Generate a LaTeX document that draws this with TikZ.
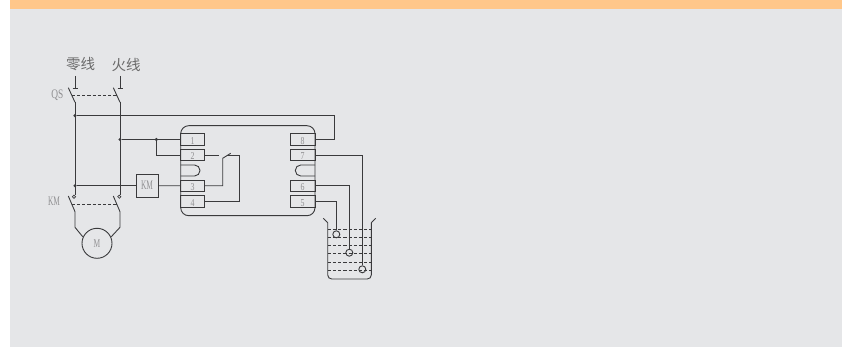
\documentclass[tikz,border=0pt]{standalone}
\usepackage{fontspec}
\setmainfont{Liberation Serif}
\newfontfamily\cjk{Noto Sans CJK SC}
\definecolor{bgc}{HTML}{E5E6E8}
\definecolor{orangec}{HTML}{FFC78A}
\definecolor{wirec}{HTML}{3A3A3C}
\definecolor{txtc}{HTML}{909092}
\tikzset{
  wire/.style={draw=wirec,line width=0.9pt},
  dashwire/.style={wire,dash pattern=on 3.2pt off 2pt},
  term/.style={draw=wirec,line width=0.9pt,minimum height=11.6pt,inner sep=0pt,outer sep=0pt},
  lterm/.style={term,minimum width=24pt},
  rterm/.style={term,minimum width=24.7pt},
  num/.style={text=txtc,font=\fontsize{10.5}{10.5}\selectfont,inner sep=0pt,xscale=0.75},
  lab/.style={text=txtc,font=\fontsize{13}{13}\selectfont,inner sep=0pt},
  cn/.style={text=black!58,font=\cjk\fontsize{14.5}{14.5}\selectfont,inner sep=0pt},
  dot/.style={circle,fill=wirec,inner sep=0pt,minimum size=3.4pt},
  ring/.style={circle,draw=wirec,line width=0.9pt,inner sep=0pt,minimum size=7pt},
  smallring/.style={circle,draw=wirec,line width=0.7pt,inner sep=0pt,minimum size=3.2pt}
}
\begin{document}
\begin{tikzpicture}[x=1pt,y=-1pt]
\useasboundingbox (0,0) rectangle (842,347);
\fill[white] (0,0) rectangle (842,347);
\fill[bgc] (10,9) rectangle (842,347);
\fill[orangec] (10,0) rectangle (842,9);

% labels
\node[cn] (ln) at (80.5,64.5) {零线};
\node[cn] (lh) at (126,64.5) {火线};
\node[lab] (qs) at (57.3,95) {\scalebox{0.72}[1]{QS}};
\node[lab] (kml) at (54,201.7) {\scalebox{0.57}[1]{KM}};

% main unit
\node[draw=wirec,line width=0.9pt,rounded corners=8pt,minimum width=134.3pt,minimum height=90pt,inner sep=0pt,outer sep=0pt] (unit) at (247.85,170.7) {};
\node[lterm,label={[num,yshift=-1.5pt]center:1}] (t1) at (192.7,139.5) {};
\node[lterm,label={[num,yshift=-1.5pt]center:2}] (t2) at (192.7,155) {};
\node[lterm,label={[num,yshift=-1.5pt]center:3}] (t3) at (192.7,185.8) {};
\node[lterm,label={[num,yshift=-1.5pt]center:4}] (t4) at (192.7,201.5) {};
\node[rterm,label={[num,yshift=-1.5pt]center:8}] (t8) at (302.65,139.5) {};
\node[rterm,label={[num,yshift=-1.5pt]center:7}] (t7) at (302.65,155) {};
\node[rterm,label={[num,yshift=-1.5pt]center:6}] (t6) at (302.65,185.8) {};
\node[rterm,label={[num,yshift=-1.5pt]center:5}] (t5) at (302.65,201.5) {};

% U links
\coordinate (ula) at (180.7,165);
\coordinate (ulb) at (180.7,176);
\coordinate (ura) at (315,165);
\coordinate (urb) at (315,176);
\draw[wire,rounded corners=5.4pt] (ula) -- (200,165) -- (200,176) -- (ulb);
\draw[wire,rounded corners=5.4pt] (ura) -- (295.3,165) -- (295.3,176) -- (urb);

% KM coil and motor
\node[draw=wirec,line width=0.9pt,minimum width=22pt,minimum height=23pt,inner sep=0pt,outer sep=0pt,text=txtc,font=\fontsize{13}{13}\selectfont] (coil) at (147,185.7) {\scalebox{0.57}[1]{KM}};
\node[circle,draw=wirec,line width=0.9pt,minimum size=30pt,inner sep=0pt,outer sep=0pt,text=txtc,font=\fontsize{12}{12}\selectfont] (motor) at (97,243.3) {\scalebox{0.62}[1]{M}};

% points
\coordinate (nt) at (75,76);
\coordinate (ht) at (120,76);
\coordinate (ntl) at (72.7,88);
\coordinate (ntr) at (77.7,88);
\coordinate (htl) at (117.5,88);
\coordinate (htr) at (122.5,88);
\coordinate (nb1) at (68.3,87.7);
\coordinate (nb2) at (75,102.3);
\coordinate (hb1) at (113.3,87.7);
\coordinate (hb2) at (120,102.3);
\coordinate (qsa) at (71.7,95.7);
\coordinate (qsb) at (116.7,95.7);
\node[dot] (j1) at (75,115.7) {};
\node[dot] (j2) at (120,139.5) {};
\node[dot] (j3) at (156.3,139.5) {};
\node[dot] (j4) at (75,185.7) {};
\node[smallring] (r1) at (74,196.7) {};
\node[smallring] (r2) at (119.3,196.7) {};
\coordinate (kb1) at (68.3,196);
\coordinate (kb2) at (75,211.7);
\coordinate (kb3) at (113.3,196);
\coordinate (kb4) at (120,211.7);
\coordinate (kma) at (71.7,204);
\coordinate (kmb) at (116.7,204);
\coordinate (mla) at (75,227.3);
\coordinate (mra) at (120,227.3);
\coordinate (mlb) at (82.7,236.7);
\coordinate (mrb) at (111.3,236.7);

% QS
\draw[wire] (nt) -- (nt |- ntl);
\draw[wire] (ht) -- (ht |- htl);
\draw[wire] (ntl) -- (ntr);
\draw[wire] (htl) -- (htr);
\draw[wire] (nb1) -- (nb2);
\draw[wire] (hb1) -- (hb2);
\draw[dashwire] (qsa) -- (qsb);

% power rails
\draw[wire] (nb2) -- (nb2 |- r1.north);
\draw[wire] (hb2) -- (hb2 |- r2.north);
\draw[wire] (j1) -| (334.3,139.5) -- (t8.east);
\draw[wire] (j2) -- (t1.west);
\draw[wire] (j3) |- (t2.west);
\draw[wire] (j4) -- (coil.west);
\draw[wire] (coil.east) -- (t3.west);

% KM contacts and motor
\draw[wire] (kb1) -- (kb2);
\draw[wire] (kb3) -- (kb4);
\draw[dashwire] (kma) -- (kmb);
\draw[wire] (kb2) -- (mla) -- (mlb);
\draw[wire] (kb4) -- (mra) -- (mrb);

% relay contact
\coordinate (c1) at (219.3,155);
\coordinate (c2) at (222.7,158.3);
\coordinate (c3) at (230.7,153.3);
\coordinate (c4) at (226.7,155);
\coordinate (c5) at (239.3,155);
\draw[wire] (t2.east) -- (c1);
\draw[wire] (t3.east) -| (c2) -- (c3);
\draw[wire] (t4.east) -| (c5) -- (c4);

% beaker
\coordinate (b1) at (323.3,218.3);
\coordinate (b2) at (327.7,222.7);
\coordinate (b3) at (371.3,222.7);
\coordinate (b4) at (375.7,218.3);
\draw[wire] (b1) -- (b2);
\draw[wire] (b3) -- (b4);
\draw[wire,rounded corners=4pt] (b2) -- (327.7,279) -- (371.3,279) -- (b3);
\foreach \yy in {229.3,237.3,245.7,253.7,262,270.3}
  \draw[dashwire] (327.7,\yy) -- (371.3,\yy);

% probes
\node[ring] (p5) at (336.3,234.3) {};
\node[ring] (p6) at (349.3,252.7) {};
\node[ring] (p7) at (362.3,269.3) {};
\draw[wire] (t5.east) -| (p5.north);
\draw[wire] (t6.east) -| (p6.north);
\draw[wire] (t7.east) -| (p7.north);
\end{tikzpicture}
\end{document}
